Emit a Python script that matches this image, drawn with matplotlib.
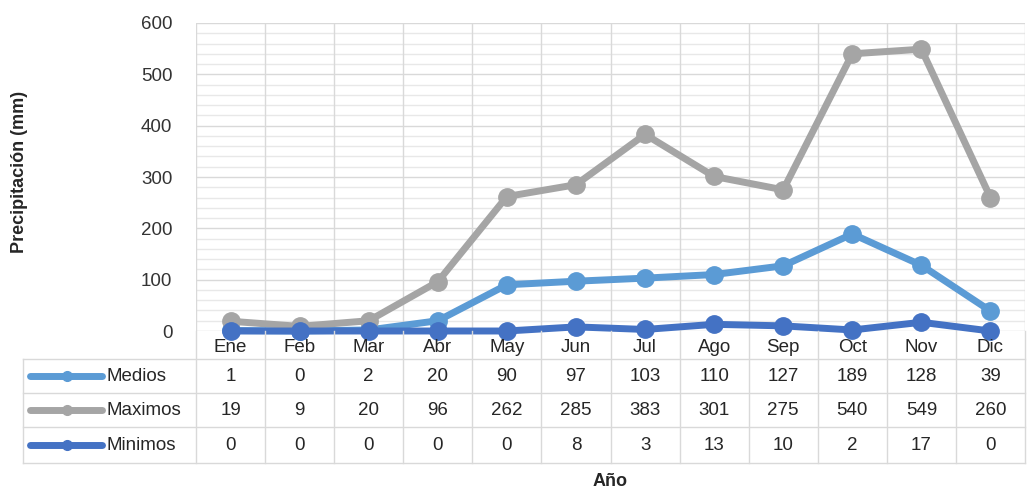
import numpy as np
import matplotlib.pyplot as plt
from matplotlib.lines import Line2D

plt.rcParams['font.family'] = ['Liberation Sans', 'DejaVu Sans']

# data
meses = ['Ene', 'Feb', 'Mar', 'Abr', 'May', 'Jun', 'Jul', 'Ago', 'Sep', 'Oct', 'Nov', 'Dic']
medios = [1, 0, 2, 20, 90, 97, 103, 110, 127, 189, 128, 39]
maximos = [19, 9, 20, 96, 262, 285, 383, 301, 275, 540, 549, 260]
minimos = [0, 0, 0, 0, 0, 8, 3, 13, 10, 2, 17, 0]

nombres = ['Medios', 'Maximos', 'Minimos']
series = [medios, maximos, minimos]
colores = ['#5B9BD5', '#A5A5A5', '#4472C4']

W, H = 1029, 496
fig = plt.figure(figsize=(W / 100, H / 100), dpi=100)

# pixel geometry of plot area / table
left, right = 196, 1025
top, y0 = 23, 331
tbot = 462.7
grid_c = '#D9D9D9'
txt_c = '#262626'
fs = 13.5

ax = fig.add_axes([left / W, 1 - y0 / H, (right - left) / W, (y0 - top) / H])
x = np.arange(len(meses))
ax.set_xlim(-0.5, len(meses) - 0.5)
ax.set_ylim(0, 600)
ax.set_yticks(np.arange(0, 601, 100))
ax.set_xticks([])
ax.tick_params(axis='y', length=0, pad=17, labelsize=fs, labelcolor='#333333')
for s in ax.spines.values():
    s.set_visible(False)
for v in np.arange(0, 601, 20):
    ax.axhline(v, color='#E8E8E8' if v % 100 else grid_c, lw=1, zorder=0)
for k in range(len(meses) + 1):
    ax.axvline(k - 0.5, color=grid_c, lw=1, zorder=0)

for nom, ys, c in zip(nombres, series, colores):
    ax.plot(x, ys, color=c, lw=5, marker='o', ms=12.5, clip_on=False, zorder=3)

fig.text(20 / W, 1 - 172 / H, 'Precipitación (mm)', rotation=90, ha='center', va='center',
         fontsize=13, fontweight='bold', color=txt_c)

# data table below the plot
tax = fig.add_axes([left / W, 1 - tbot / H, (right - left) / W, (tbot - y0) / H])
tax.set_xlim(-0.5, len(meses) - 0.5)
tax.set_ylim(tbot - y0, 0)
tax.axis('off')

filas = [0, 28.3, 62.3, 96.3, tbot - y0]
xleg = -3.0
for yb in filas[1:]:
    tax.add_line(Line2D([xleg, len(meses) - 0.5], [yb, yb], color=grid_c, lw=1, clip_on=False))
for k in range(len(meses) + 1):
    tax.add_line(Line2D([k - 0.5, k - 0.5], [0, filas[-1]], color=grid_c, lw=1, clip_on=False))
tax.add_line(Line2D([xleg, xleg], [filas[1], filas[-1]], color=grid_c, lw=1, clip_on=False))

for i, m in enumerate(meses):
    tax.text(i, filas[1] / 2 + 2, m, ha='center', va='center', fontsize=fs, color=txt_c)

for r, (nom, ys, c) in enumerate(zip(nombres, series, colores)):
    yc = (filas[r + 1] + filas[r + 2]) / 2
    tax.add_line(Line2D([-2.9, -1.86], [yc, yc], color=c, lw=5, clip_on=False,
                        solid_capstyle='round'))
    tax.plot([-2.37], [yc], 'o', color=c, ms=7, clip_on=False)
    tax.text(-1.8, yc, nom, ha='left', va='center', fontsize=fs, color=txt_c, clip_on=False)
    for i, v in enumerate(ys):
        tax.text(i, yc, str(v), ha='center', va='center', fontsize=fs, color=txt_c)

fig.text((left + right) / 2 / W, 1 - 481 / H, 'Año', ha='center', va='center',
         fontsize=13, fontweight='bold', color=txt_c)

fig.savefig('out.png', dpi=100)
